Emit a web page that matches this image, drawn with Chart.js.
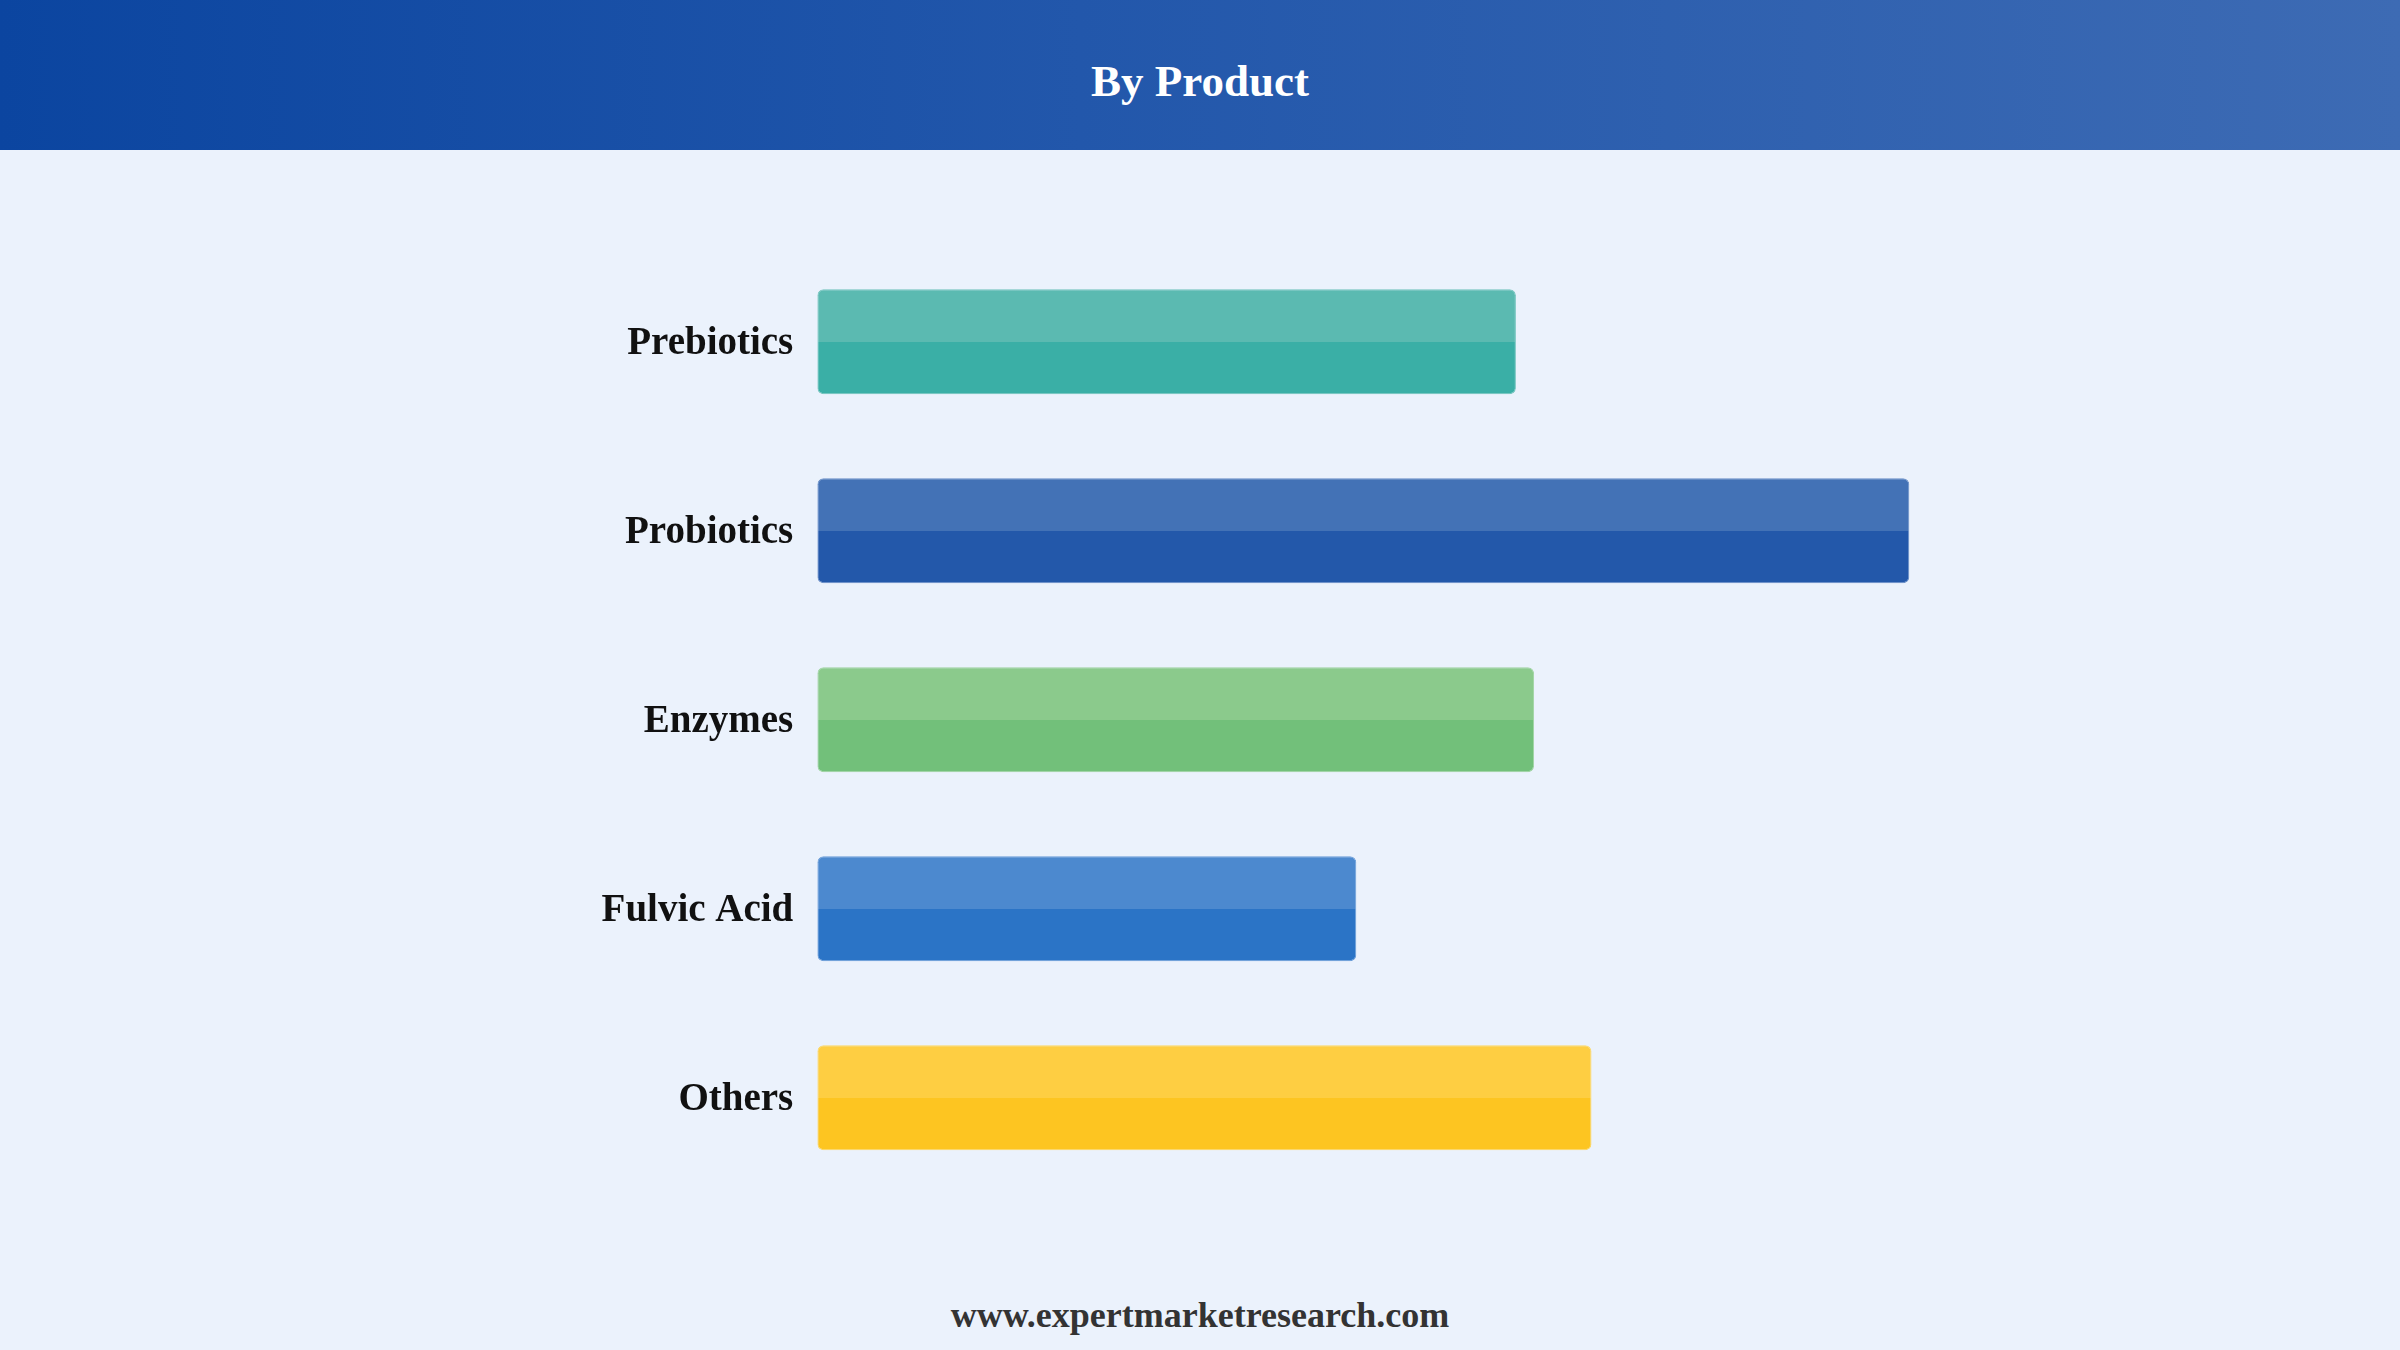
<!DOCTYPE html>
<html>
<head>
<meta charset="utf-8">
<script src="https://cdn.jsdelivr.net/npm/chart.js@4/dist/chart.umd.min.js"></script>
<style>
  html, body { margin: 0; padding: 0; }
  body { width: 2400px; height: 1350px; background: #ebf2fc; position: relative; overflow: hidden;
         font-family: "Liberation Serif", "Times New Roman", serif; }
  #header { position: absolute; left: 0; top: 0; width: 2400px; height: 150px;
            background: linear-gradient(to right, #0b45a0 0%, #2257ab 45%, #3d6bb4 100%); }
  #title { position: absolute; left: 0; top: 0; width: 2400px; height: 150px; line-height: 162px;
           text-align: center; color: #ffffff; font-weight: bold; font-size: 45px; }
  #wrap { position: absolute; left: 0; top: 150px; width: 2400px; height: 1120px; }
  #footer { position: absolute; left: 0; top: 1295px; width: 2400px; text-align: center;
            color: #333333; font-weight: bold; font-size: 36px; line-height: 40px; }
</style>
</head>
<body>
<div id="header"><div id="title">By Product</div></div>
<div id="wrap"><canvas id="c"></canvas></div>
<div id="footer">www.expertmarketresearch.com</div>
<script>
const categories = ["Prebiotics", "Probiotics", "Enzymes", "Fulvic Acid", "Others"];
const values = [49.9, 78.0, 51.2, 38.5, 55.3];
const topColors = ["#5bbab1", "#4372b6", "#8bca8c", "#4c89cf", "#fece42"];
const bottomColors = ["#3aafa6", "#2358aa", "#72c07a", "#2b74c6", "#fdc521"];
const borderColors = ["#72c4bc", "#6a8fc7", "#9fd4a1", "#6a9dd8", "#fed862"];

const BAR_PCT = 105 / 189;

function twoTone(ctx) {
  const chart = ctx.chart;
  const area = chart.chartArea;
  const i = ctx.dataIndex;
  if (!area || !chart.scales.y) return bottomColors[i];
  const c = chart.scales.y.getPixelForValue(i);
  const h = (area.bottom - area.top) / categories.length * BAR_PCT;
  const g = chart.ctx.createLinearGradient(0, c - h / 2, 0, c + h / 2);
  g.addColorStop(0, topColors[i]);
  g.addColorStop(0.5, topColors[i]);
  g.addColorStop(0.5, bottomColors[i]);
  g.addColorStop(1, bottomColors[i]);
  return g;
}

new Chart(document.getElementById("c"), {
  type: "bar",
  data: {
    labels: categories,
    datasets: [{
      data: values,
      backgroundColor: twoTone,
      borderColor: borderColors,
      borderWidth: 1,
      borderSkipped: false,
      borderRadius: 6,
      categoryPercentage: 1,
      barPercentage: BAR_PCT
    }]
  },
  options: {
    indexAxis: "y",
    responsive: true,
    maintainAspectRatio: false,
    devicePixelRatio: 1,
    animation: false,
    layout: { padding: { left: 0, right: 182.7, top: 97.3, bottom: 77.7 } },
    plugins: { legend: { display: false }, tooltip: { enabled: false }, title: { display: false } },
    scales: {
      x: { display: false, min: 0, max: 100 },
      y: {
        afterFit(scale) { scale.width = 817.3; },
        grid: { display: false, drawTicks: false },
        border: { display: false },
        ticks: {
          padding: 24,
          labelOffset: 2,
          color: "#111111",
          font: { family: "'Liberation Serif', 'Times New Roman', serif", size: 39, weight: "bold" }
        }
      }
    }
  }
});
</script>
</body>
</html>
